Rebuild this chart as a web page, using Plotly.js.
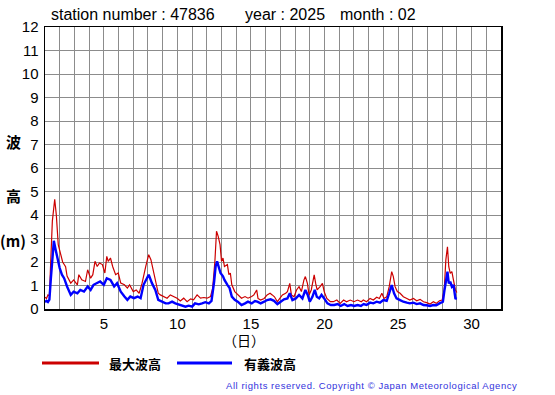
<!DOCTYPE html>
<html>
<head>
<meta charset="utf-8">
<script src="https://cdn.plot.ly/plotly-3.0.1.min.js"></script>
<style>
html,body{margin:0;padding:0;background:#fff;}
#chart{width:555px;height:395px;}
</style>
</head>
<body>
<div id="chart"></div>
<script>
// ---- data (day of month, metres) ----
const maxDays = [1.0,1.1,1.2,1.3,1.4,1.5,1.66,1.77,1.9,2.07,2.2,2.4,2.5,2.75,2.95,3.2,3.3,3.5,3.75,3.9,4.1,4.25,4.4,4.55,4.7,4.9,5.07,5.2,5.3,5.45,5.6,5.8,5.98,6.15,6.4,6.6,6.75,7.0,7.2,7.4,7.6,7.85,8.05,8.2,8.27,8.5,8.7,8.84,9.07,9.3,9.52,9.75,9.98,10.2,10.43,10.66,10.9,11.1,11.34,11.57,11.8,12.02,12.25,12.4,12.55,12.66,12.77,12.9,13.0,13.1,13.2,13.4,13.5,13.6,13.7,13.9,14.1,14.36,14.6,14.8,15.05,15.2,15.39,15.48,15.66,15.9,16.1,16.3,16.45,16.6,16.8,16.98,17.14,17.36,17.48,17.64,17.75,17.93,18.1,18.27,18.43,18.6,18.7,18.84,18.95,19.1,19.3,19.4,19.5,19.7,19.86,19.98,20.16,20.4,20.6,20.84,21.07,21.3,21.5,21.75,22.0,22.25,22.5,22.64,22.86,23.1,23.32,23.55,23.73,23.9,24.05,24.23,24.4,24.57,24.68,24.8,24.95,25.14,25.36,25.6,25.8,26.05,26.27,26.5,26.73,26.95,27.18,27.4,27.6,27.82,28.0,28.14,28.25,28.36,28.45,28.55,28.66,28.77,28.9,29.0];
const maxWave = [0.5,0.45,0.6,0.55,2.2,3.74,4.67,4.0,2.74,2.24,2.0,1.8,1.4,1.1,1.24,1.03,1.46,1.24,1.17,1.67,1.31,1.46,2.03,1.81,1.96,1.89,1.53,2.24,2.03,2.17,1.81,1.46,1.53,1.1,1.03,0.89,1.03,0.74,0.81,0.67,1.1,1.81,2.31,2.1,1.89,1.31,0.67,0.6,0.53,0.46,0.6,0.53,0.46,0.34,0.46,0.31,0.43,0.39,0.6,0.46,0.49,0.46,0.53,0.89,2.03,3.31,3.1,2.74,2.03,2.17,1.81,1.89,1.46,1.53,1.03,0.74,0.6,0.46,0.53,0.46,0.53,0.6,0.81,0.45,0.38,0.45,0.6,0.67,0.6,0.52,0.31,0.45,0.6,0.67,0.74,1.09,0.6,0.52,0.81,0.95,0.74,1.23,1.38,1.09,0.6,0.81,1.45,1.09,0.81,0.95,1.09,0.74,0.45,0.31,0.31,0.38,0.24,0.38,0.31,0.38,0.31,0.38,0.31,0.38,0.31,0.45,0.38,0.5,0.45,0.67,0.45,0.52,0.95,1.59,1.38,0.95,0.74,0.67,0.52,0.45,0.38,0.45,0.35,0.41,0.31,0.27,0.21,0.31,0.24,0.35,0.38,0.81,2.09,2.65,1.8,1.52,1.59,1.23,0.81,0.7];

const sigDays = [1.0,1.1,1.2,1.3,1.4,1.6,1.73,1.85,2.0,2.15,2.3,2.5,2.75,2.95,3.2,3.4,3.65,3.9,4.1,4.3,4.55,4.75,5.0,5.2,5.45,5.7,5.9,6.15,6.4,6.6,6.8,7.05,7.3,7.5,7.7,8.0,8.05,8.27,8.5,8.7,8.95,9.2,9.4,9.64,9.86,10.1,10.3,10.55,10.77,11.0,11.2,11.45,11.68,11.9,12.14,12.32,12.5,12.6,12.7,12.82,12.93,13.1,13.2,13.4,13.55,13.7,13.9,14.1,14.36,14.6,14.8,15.05,15.27,15.43,15.66,15.9,16.1,16.34,16.57,16.8,17.02,17.25,17.48,17.64,17.82,18.05,18.27,18.5,18.7,18.86,19.0,19.18,19.34,19.48,19.64,19.8,19.98,20.2,20.43,20.66,20.9,21.1,21.34,21.57,21.8,22.02,22.25,22.48,22.66,22.86,23.1,23.32,23.55,23.77,24.0,24.23,24.4,24.57,24.73,24.9,25.14,25.36,25.6,25.8,26.05,26.27,26.5,26.73,26.95,27.18,27.4,27.6,27.82,28.05,28.16,28.27,28.36,28.45,28.55,28.66,28.77,28.9,29.0];
const sigWave = [0.3,0.35,0.3,0.4,1.3,2.9,2.5,2.1,1.74,1.46,1.31,0.96,0.6,0.74,0.67,0.81,0.74,0.96,0.81,1.03,1.1,1.17,1.03,1.31,1.24,0.96,1.1,0.74,0.53,0.39,0.53,0.46,0.53,0.46,1.03,1.39,1.46,1.1,0.81,0.39,0.31,0.24,0.24,0.31,0.24,0.2,0.17,0.1,0.14,0.1,0.24,0.2,0.24,0.29,0.24,0.34,1.17,1.81,2.03,1.81,1.53,1.39,1.24,1.03,0.89,0.53,0.39,0.31,0.17,0.24,0.31,0.24,0.34,0.31,0.24,0.31,0.38,0.41,0.35,0.21,0.31,0.41,0.45,0.67,0.38,0.45,0.6,0.45,0.81,0.6,0.31,0.52,0.81,0.52,0.45,0.6,0.45,0.24,0.17,0.17,0.21,0.13,0.21,0.13,0.17,0.13,0.17,0.13,0.21,0.17,0.27,0.24,0.31,0.27,0.38,0.35,0.67,1.02,0.67,0.45,0.38,0.31,0.27,0.24,0.27,0.21,0.24,0.17,0.16,0.13,0.17,0.16,0.24,0.31,0.81,1.38,1.59,1.09,1.16,0.95,1.02,0.45,0.43];

const xTickVals = [1,2,3,4,5,6,7,8,9,10,11,12,13,14,15,16,17,18,19,20,21,22,23,24,25,26,27,28,29,30,31,32];
const xTickText = ['','','','','5','','','','','10','','','','','15','','','','','20','','','','','25','','','','','30','',''];
const yTickVals = [0,1,2,3,4,5,6,7,8,9,10,11,12];

const seriesNames = ['最大波高','有義波高'];
const headerTexts = ['station number : 47836','year : 2025','month : 02'];

// ---- chart ----
const L = 45, T = 27, W = 456, H = 282;
const px = x => (x - L) / W;
const py = y => (T + H - y) / H;
const sans = 'Arial, "Liberation Sans", sans-serif';
const cjk = '"Noto Sans CJK JP", sans-serif';

const traces = [
  {x: maxDays, y: maxWave, type: 'scatter', mode: 'lines', name: seriesNames[0],
   line: {color: '#cc0000', width: 1.2}, hoverinfo: 'skip'},
  {x: sigDays, y: sigWave, type: 'scatter', mode: 'lines', name: seriesNames[1],
   line: {color: '#0000ff', width: 2.4}, hoverinfo: 'skip'}
];

const ann = [];
const hdrX = [49, 243, 338];
headerTexts.forEach((t, i) => ann.push({text: t, xref: 'paper', yref: 'paper', x: px(hdrX[i]), y: py(15),
  xanchor: 'left', yanchor: 'middle', showarrow: false, font: {family: sans, size: 16, color: '#000'}}));
ann.push({text: '波', xref: 'paper', yref: 'paper', x: px(13), y: py(141), xanchor: 'center', yanchor: 'middle',
  showarrow: false, font: {family: cjk, size: 15, color: '#000', weight: 'bold'}});
ann.push({text: '高', xref: 'paper', yref: 'paper', x: px(13), y: py(196), xanchor: 'center', yanchor: 'middle',
  showarrow: false, font: {family: cjk, size: 15, color: '#000', weight: 'bold'}});
ann.push({text: '(m)', xref: 'paper', yref: 'paper', x: px(13), y: py(240), xanchor: 'center', yanchor: 'middle',
  showarrow: false, font: {family: cjk, size: 15, color: '#000', weight: 'bold'}});
ann.push({text: '（日）', xref: 'paper', yref: 'paper', x: px(244), y: py(340), xanchor: 'center', yanchor: 'middle',
  showarrow: false, font: {family: cjk, size: 14, color: '#000'}});
ann.push({text: seriesNames[0], xref: 'paper', yref: 'paper', x: px(107), y: py(363), xanchor: 'left', yanchor: 'middle',
  showarrow: false, font: {family: cjk, size: 13, color: '#000', weight: 'bold'}});
ann.push({text: seriesNames[1], xref: 'paper', yref: 'paper', x: px(242), y: py(363), xanchor: 'left', yanchor: 'middle',
  showarrow: false, font: {family: cjk, size: 13, color: '#000', weight: 'bold'}});
ann.push({text: 'All rights reserved. Copyright © Japan Meteorological Agency', xref: 'paper', yref: 'paper',
  x: px(226), y: py(385), xanchor: 'left', yanchor: 'middle', showarrow: false,
  font: {family: sans, size: 9.5, color: '#3333dd'}});

const shapes = [
  {type: 'line', xref: 'paper', yref: 'paper', x0: px(42), x1: px(99), y0: py(363), y1: py(363),
   line: {color: '#cc0000', width: 3}},
  {type: 'line', xref: 'paper', yref: 'paper', x0: px(177), x1: px(232), y0: py(363), y1: py(363),
   line: {color: '#0000ff', width: 3}}
];

const layout = {
  width: 555, height: 395,
  margin: {l: L, r: 555 - L - W, t: T, b: 395 - T - H, pad: 0},
  paper_bgcolor: '#fff', plot_bgcolor: '#fff',
  showlegend: false,
  xaxis: {range: [1, 32], tickmode: 'array', tickvals: xTickVals, ticktext: xTickText,
    showgrid: true, gridcolor: '#8c8c8c', gridwidth: 1, zeroline: false,
    showline: true, mirror: true, linecolor: '#000', linewidth: 1.5, ticks: '',
    tickfont: {family: sans, size: 15, color: '#000'}, fixedrange: true},
  yaxis: {range: [0, 12], tickmode: 'array', tickvals: yTickVals,
    showgrid: true, gridcolor: '#8c8c8c', gridwidth: 1, zeroline: false,
    showline: true, mirror: true, linecolor: '#000', linewidth: 1.5, ticks: '', ticklabelstandoff: 2,
    tickfont: {family: sans, size: 15, color: '#000'}, fixedrange: true},
  annotations: ann,
  shapes: shapes
};

Plotly.newPlot('chart', traces, layout, {staticPlot: true, displayModeBar: false}).then(gd => {
  // the reference footer is letter-spaced; keep its left edge at x = 226 px
  const box = gd.getBoundingClientRect();
  gd.querySelectorAll('.annotation-text').forEach(t => {
    if (t.textContent.indexOf('Copyright') < 0) return;
    t.setAttribute('letter-spacing', '0.55');
    const r = t.getBoundingClientRect();
    const dx = 226 - (r.left - box.left);
    t.setAttribute('x', parseFloat(t.getAttribute('x') || '0') + dx);
  });
});
</script>
</body>
</html>
